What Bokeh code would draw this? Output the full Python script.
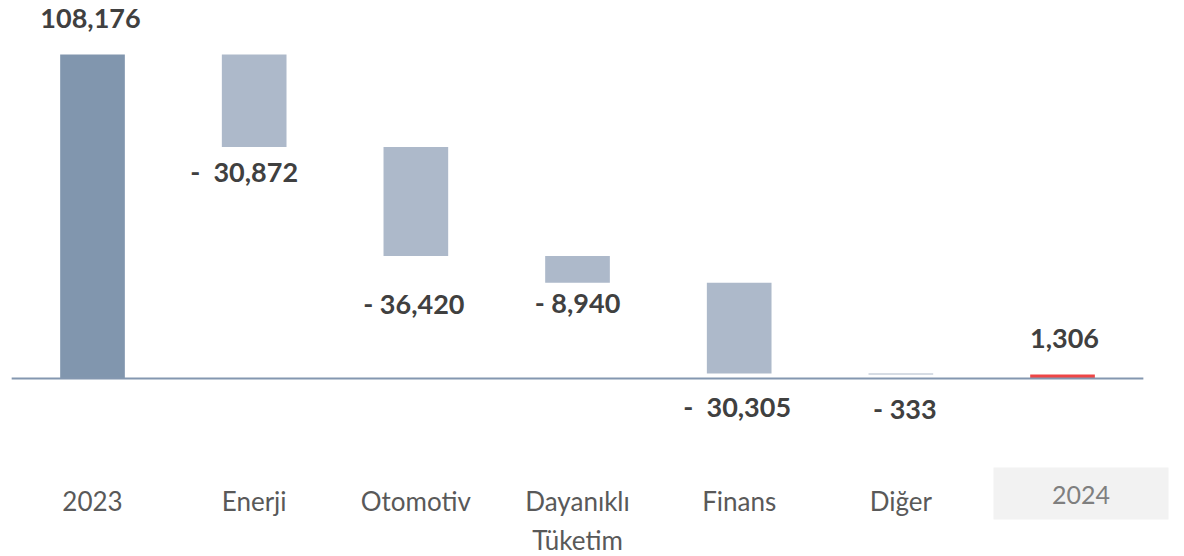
from bokeh.plotting import figure
from bokeh.models import Range1d
from bokeh.core.properties import value
from bokeh.embed import file_html
from bokeh.resources import INLINE

# ---------------- data ----------------
categories = ["2023", "Enerji", "Otomotiv", "Dayanıklı\nTüketim", "Finans", "Diğer", "2024"]
changes = [108176, -30872, -36420, -8940, -30305, -333, 1306]
kinds = ["total", "delta", "delta", "delta", "delta", "delta", "total"]
value_labels = ["108,176", "- \u00a030,872", "- 36,420", "- 8,940", "- \u00a030,305", "- 333", "1,306"]

# ---------------- layout / style ----------------
W, H = 1184, 556
PX_PER_CAT = 161.67
X0 = -0.5691                       # data x at left edge of frame
BASE_PX = 378                      # baseline, px from top of frame
PX_PER_UNIT = 0.002995             # vertical px per value unit
Y_TOP = BASE_PX / PX_PER_UNIT
Y_BOT = -(H - BASE_PX) / PX_PER_UNIT

FONT = "Lato"
C_TOTAL = "#8196AE"
C_DELTA = "#ADB9CA"
C_END = "#EE4646"
C_LABEL = "#404040"
C_CAT = "#595959"

# label pixel offsets from bar anchor (dy down positive, dx right positive)
label_dy = [-36, 25, 47, 20, 33, 34, -36]
label_dx = [-2, -10, -2, 0, -2, 4, 2]


def py(px):
    """frame pixel row -> data y"""
    return (BASE_PX - px) / PX_PER_UNIT


def pxx(px):
    """frame pixel column -> data x"""
    return X0 + px / PX_PER_CAT


p = figure(width=W, height=H, output_backend="svg", toolbar_location=None,
           x_range=Range1d(X0, X0 + W / PX_PER_CAT), y_range=Range1d(Y_BOT, Y_TOP),
           min_border=0, min_border_left=0, min_border_right=0,
           min_border_top=0, min_border_bottom=0)
p.axis.visible = False
p.grid.visible = False
p.outline_line_color = None
p.background_fill_color = None
p.border_fill_color = None

# compute waterfall geometry
xs, bottoms, tops, colors = [], [], [], []
running = 0
for i, (v, k) in enumerate(zip(changes, kinds)):
    xs.append(i)
    if k == "total":
        bottoms.append(0)
        tops.append(v)
        running = v
        colors.append(C_TOTAL if i == 0 else C_END)
    else:
        bottoms.append(running + v)
        tops.append(running)
        running += v
        colors.append(C_DELTA)

p.vbar(x=xs, bottom=bottoms, top=tops, width=0.4, fill_color=colors, line_color=None)

# baseline
p.segment(x0=[-0.5], y0=[0], x1=[len(categories) - 0.5], y1=[0], line_color="#8497B0", line_width=2)

# value labels
lx, ly = [], []
for i, k in enumerate(kinds):
    anchor = tops[i] if k == "total" else bottoms[i]
    ly.append(anchor - label_dy[i] / PX_PER_UNIT)
    lx.append(xs[i] + label_dx[i] / PX_PER_CAT)
p.text(x=lx, y=ly, text=value_labels, text_font=value(FONT), text_font_style="bold",
       text_font_size="27px", text_color=C_LABEL, text_align="center", text_baseline="middle")

# category labels
CAT_PX = 500
LINE_PX = 39
cx, cy, ct = [], [], []
for i, c in enumerate(categories[:-1]):
    for j, line in enumerate(c.split("\n")):
        cx.append(xs[i])
        cy.append(py(CAT_PX + j * LINE_PX))
        ct.append(line)
p.text(x=cx, y=cy, text=ct, text_font=value(FONT), text_font_size="26px",
       text_color=C_CAT, text_align="center", text_baseline="middle")

# final category in grey box
last = len(categories) - 1
box_l, box_r = pxx(993), pxx(1168)
box_t, box_b = py(467), py(519)
p.quad(left=[box_l], right=[box_r], top=[box_t], bottom=[box_b], fill_color="#F2F2F2", line_color=None)
p.text(x=[(box_l + box_r) / 2], y=[py(494)], text=[categories[last]], text_font=value(FONT),
       text_font_size="25px", text_color="#7F7F7F", text_align="center", text_baseline="middle")

open("out.html", "w").write(file_html(p, INLINE))
